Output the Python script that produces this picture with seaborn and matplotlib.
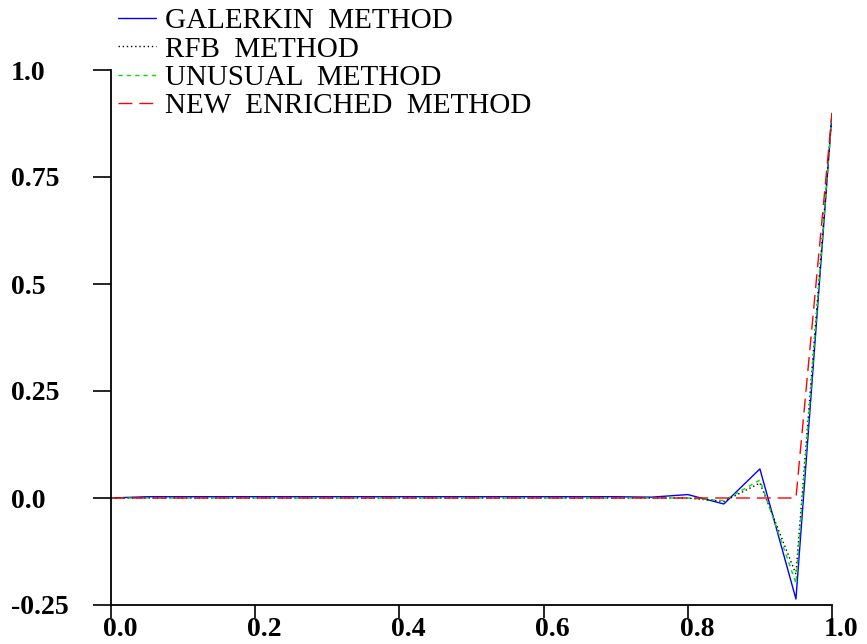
import numpy as np
import pandas as pd
import matplotlib
matplotlib.use("Agg")
import matplotlib.pyplot as plt
import matplotlib.transforms as mtransforms
import seaborn as sns

# nodes of the mesh (h = 0.05)
x_nodes = [0.0, 0.05, 0.1, 0.15, 0.2, 0.25, 0.3, 0.35, 0.4, 0.45, 0.5,
           0.55, 0.6, 0.65, 0.7, 0.75, 0.8, 0.85, 0.9, 0.95, 1.0]

galerkin = [0.0, 0.003, 0.003, 0.003, 0.003, 0.003, 0.003, 0.003, 0.003, 0.003, 0.003,
            0.003, 0.003, 0.003, 0.003, 0.002, 0.008, -0.014, 0.068, -0.236, 0.899]
rfb = [0.0, 0.0, 0.0, 0.0, 0.0, 0.0, 0.0, 0.0, 0.0, 0.0, 0.0,
       0.0, 0.0, 0.0, 0.0, 0.0, 0.0, -0.008, 0.035, -0.178, 0.899]
unusual = [0.0, 0.0, 0.0, 0.0, 0.0, 0.0, 0.0, 0.0, 0.0, 0.0, 0.0,
           0.0, 0.0, 0.0, 0.0, 0.0, 0.0, -0.006, 0.042, -0.199, 0.899]
new_enriched = [0.0, 0.0, 0.0, 0.0, 0.0, 0.0, 0.0, 0.0, 0.0, 0.0, 0.0,
                0.0, 0.0, 0.0, 0.0, 0.0, 0.0, 0.0, 0.0, 0.0, 0.899]

methods = ["GALERKIN  METHOD", "RFB  METHOD", "UNUSUAL  METHOD", "NEW  ENRICHED  METHOD"]
series = [galerkin, rfb, unusual, new_enriched]

x_ticks = [0.0, 0.2, 0.4, 0.6, 0.8, 1.0]
x_ticklabels = ["0.0", "0.2", "0.4", "0.6", "0.8", "1.0"]
y_ticks = [-0.25, 0.0, 0.25, 0.5, 0.75, 1.0]
y_ticklabels = ["-0.25", "0.0", "0.25", "0.5", "0.75", "1.0"]

df = pd.concat([pd.DataFrame({"x": x_nodes, "u": s, "method": m})
                for m, s in zip(methods, series)], ignore_index=True)

colors = {methods[0]: "#0000ff", methods[1]: "#000000",
          methods[2]: "#00e000", methods[3]: "#ff0000"}
dashes = {methods[0]: "-", methods[1]: (0, (1, 2)),
          methods[2]: (0, (3, 3)), methods[3]: (0, (10, 5))}

sns.set_style("ticks")
plt.rcParams["font.family"] = ["Liberation Serif", "DejaVu Serif"]
plt.rcParams["text.color"] = "black"
plt.rcParams["xtick.color"] = "black"
plt.rcParams["ytick.color"] = "black"

fig = plt.figure(figsize=(8.67, 6.44), dpi=100)
ax = fig.add_axes([111 / 867, 39 / 644, 721 / 867, 535 / 644])

for m in methods:
    sub = df[df["method"] == m]
    sns.lineplot(data=sub, x="x", y="u", ax=ax, color=colors[m],
                 linestyle=dashes[m], linewidth=1.0, label=m, legend=False)

ax.set_xlim(0.0, 1.0)
ax.set_ylim(-0.25, 1.0)
ax.set_xlabel("")
ax.set_ylabel("")
sns.despine(ax=ax)
for sp in ["left", "bottom"]:
    ax.spines[sp].set_linewidth(1.3)
    ax.spines[sp].set_color("black")

ax.set_xticks(x_ticks)
ax.set_xticklabels(x_ticklabels, fontsize=20, fontweight="bold", color="black")
ax.set_yticks(y_ticks)
ax.set_yticklabels(y_ticklabels, fontsize=20, fontweight="bold", color="black")
ax.tick_params(axis="x", direction="out", length=9, width=1.2, pad=0)
ax.tick_params(axis="y", direction="out", length=13, width=1.2, pad=59)
for lab in ax.get_yticklabels():
    lab.set_horizontalalignment("left")
shift = mtransforms.ScaledTranslation(9 / 100, 0, fig.dpi_scale_trans)
for lab in ax.get_xticklabels():
    lab.set_transform(lab.get_transform() + shift)

handles = ax.get_lines()[:4]
fig.legend(handles, methods, loc="upper left",
           bbox_to_anchor=(118 / 867, 1 - 8 / 644), frameon=False,
           fontsize=21, handlelength=1.3, handletextpad=0.3,
           labelspacing=0.06, borderpad=0, borderaxespad=0,
           labelcolor="black")

fig.savefig("out.png", dpi=100)
